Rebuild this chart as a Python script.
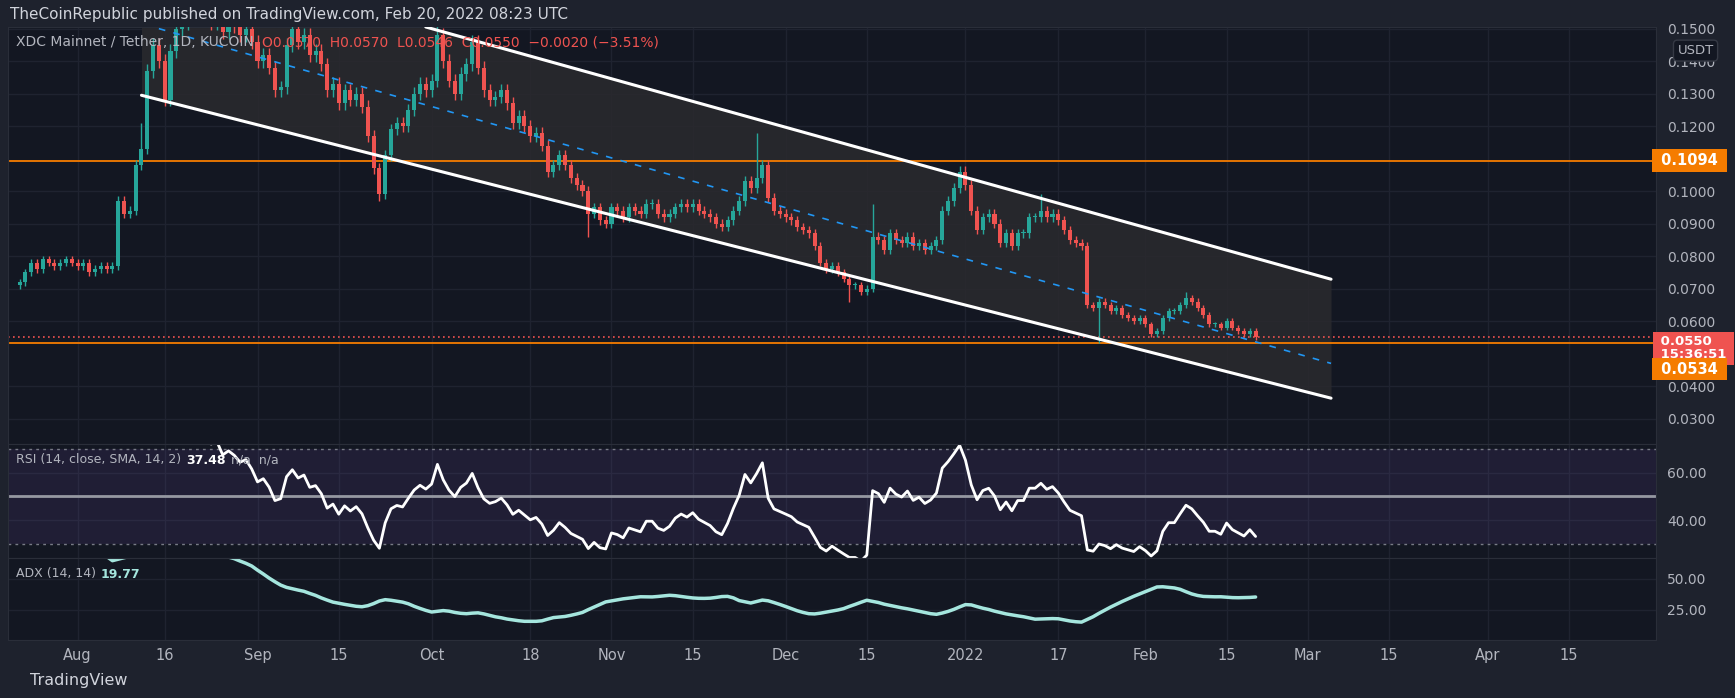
import numpy as np, pandas as pd, matplotlib
matplotlib.use("Agg")
import matplotlib.pyplot as plt, matplotlib.dates as mdates, seaborn as sns

close_jul = [0.072,0.075,0.078,0.076,0.079,0.078,0.077,0.078,0.079,0.078]
close_aug = [0.077,0.078,0.075,0.076,0.077,0.076,0.077,0.097,0.093,0.094,0.108,0.113,0.137,0.145,0.140,0.128,0.143,0.150,
             0.152,0.158,0.155,0.160,0.156,0.152,0.155,0.149,0.153,0.151,0.148,0.150,0.146]
close_sep = [0.140,0.142,0.138,0.131,0.132,0.145,0.150,0.146,0.148,0.142,0.143,0.139,0.131,0.133,0.127,0.131,0.128,0.130,0.126,0.117,
             0.107,0.099,0.111,0.119,0.121,0.120,0.125,0.130,0.133,0.131]
close_oct = [0.134,0.148,0.140,0.134,0.130,0.136,0.139,0.146,0.138,0.131,0.128,0.129,0.131,0.127,0.121,0.123,0.120,0.117,0.118,0.114,
             0.106,0.108,0.111,0.108,0.104,0.102,0.100,0.093,0.095,0.091,0.090]
close_nov = [0.095,0.094,0.092,0.095,0.094,0.093,0.096,0.096,0.093,0.092,0.093,0.095,0.096,0.095,0.096,0.094,0.093,0.092,0.090,0.089,
             0.091,0.094,0.097,0.103,0.101,0.104,0.108,0.098,0.094,0.093]
close_dec = [0.092,0.091,0.089,0.088,0.087,0.083,0.078,0.076,0.077,0.075,0.073,0.071,0.071,0.069,0.070,0.086,0.085,0.082,0.087,0.085,
             0.084,0.086,0.083,0.084,0.082,0.083,0.085,0.094,0.097,0.101,0.106]
close_jan = [0.102,0.094,0.088,0.092,0.093,0.090,0.084,0.087,0.083,0.087,0.087,0.092,0.092,0.094,0.092,0.093,0.091,0.088,0.085,0.084,
             0.083,0.065,0.064,0.066,0.065,0.063,0.064,0.062,0.061,0.060,0.061]
close_feb = [0.059,0.056,0.057,0.061,0.063,0.063,0.065,0.067,0.066,0.064,0.062,0.059,0.059,0.058,0.060,0.058,0.057,0.056,0.057,0.055]
first_open = 0.071
spike_highs = {"2021-08-12": 0.121, "2021-10-02": 0.152, "2021-11-26": 0.118, "2021-12-16": 0.096,
               "2022-01-14": 0.099, "2022-02-08": 0.069}
spike_lows = {"2021-09-22": 0.097, "2021-10-28": 0.086, "2022-01-24": 0.0534, "2021-12-12": 0.066}
resistance, support, last_price = 0.1094, 0.0534, 0.0550
upper_line = [("2021-09-30", 0.1505), ("2022-03-05", 0.0729)]
lower_line = [("2021-08-12", 0.1295), ("2022-03-05", 0.0363)]
mid_line = [("2021-08-15", 0.1500), ("2022-03-05", 0.0470)]
tick_dates = ["2021-08-01","2021-08-16","2021-09-01","2021-09-15","2021-10-01","2021-10-18","2021-11-01","2021-11-15",
              "2021-12-01","2021-12-15","2022-01-01","2022-01-17","2022-02-01","2022-02-15","2022-03-01","2022-03-15",
              "2022-04-01","2022-04-15"]
tick_labels = ["Aug","16","Sep","15","Oct","18","Nov","15","Dec","15","2022","17","Feb","15","Mar","15","Apr","15"]
price_ticks = [0.03,0.04,0.06,0.07,0.08,0.09,0.10,0.12,0.13,0.14,0.15]

closes = np.array(close_jul+close_aug+close_sep+close_oct+close_nov+close_dec+close_jan+close_feb)
dates = pd.date_range("2021-07-22", periods=len(closes), freq="D")
opens = np.concatenate([[first_open], closes[:-1]])
highs = np.maximum(opens, closes) * 1.015
lows = np.minimum(opens, closes) * 0.985
for d, v in spike_highs.items(): highs[dates.get_loc(pd.Timestamp(d))] = v
for d, v in spike_lows.items(): lows[dates.get_loc(pd.Timestamp(d))] = v
df = pd.DataFrame({"date": dates, "open": opens, "high": highs, "low": lows, "close": closes})

delta = df.close.diff()
up = delta.clip(lower=0).ewm(alpha=1/14, adjust=False).mean()
dn = (-delta.clip(upper=0)).ewm(alpha=1/14, adjust=False).mean()
df["rsi"] = 100 - 100/(1+up/dn)
tr = pd.concat([df.high-df.low, (df.high-df.close.shift()).abs(), (df.low-df.close.shift()).abs()], axis=1).max(axis=1)
pdm = (df.high.diff()).where((df.high.diff() > -df.low.diff()) & (df.high.diff() > 0), 0.0)
ndm = (-df.low.diff()).where((-df.low.diff() > df.high.diff()) & (-df.low.diff() > 0), 0.0)
atr = tr.ewm(alpha=1/14, adjust=False).mean()
pdi = 100*pdm.ewm(alpha=1/14, adjust=False).mean()/atr
ndi = 100*ndm.ewm(alpha=1/14, adjust=False).mean()/atr
dx = 100*(pdi-ndi).abs()/(pdi+ndi)
df["adx"] = dx.ewm(alpha=1/14, adjust=False).mean()

BG = "#131722"; GRID = "#1f2330"; TXT = "#b2b5be"; GREEN = "#26a69a"; RED = "#ef5350"; ORANGE = "#f57c00"
sns.set_style("dark", {"axes.facecolor": BG})
W, H = 1735, 698
fig = plt.figure(figsize=(W/100, H/100), dpi=100, facecolor="#1e222d")
def ax_at(l, t, r, b):
    return fig.add_axes([l/W, 1-b/H, (r-l)/W, (b-t)/H])
def ftext(x, y, s, **kw):
    return fig.text(x/W, 1-y/H, s, va="center", ha="left", zorder=12, **kw)
def chain(x, y, parts, size, gap=7):
    r = fig.canvas.get_renderer()
    for s, c, w in parts:
        t = ftext(x, y, s, color=c, fontsize=size, fontweight=w)
        x = t.get_window_extent(renderer=r).x1 + gap
x0, x1 = mdates.date2num(pd.Timestamp("2021-07-20")), mdates.date2num(pd.Timestamp("2022-04-30"))
axp = ax_at(8, 27, 1656, 444); axr = ax_at(8, 444, 1656, 558); axa = ax_at(8, 558, 1656, 640)
tnum = [mdates.date2num(pd.Timestamp(t)) for t in tick_dates]
for ax in (axp, axr, axa):
    ax.set_facecolor(BG); ax.set_xlim(x0, x1)
    ax.set_xticks(tnum); ax.grid(True, color=GRID, lw=1)
    ax.tick_params(axis="x", length=0, labelbottom=False)
    ax.yaxis.tick_right(); ax.tick_params(axis="y", length=0, colors=TXT, labelsize=10, pad=8)
    for s in ax.spines.values(): s.set_color("#2a2e39")
axa.set_xticklabels(tick_labels); axa.tick_params(axis="x", labelbottom=True, colors=TXT, labelsize=10.5, pad=6)

axp.set_ylim(0.0222, 0.1505)
axp.set_yticks(price_ticks); axp.set_yticklabels([f"{v:.4f}" for v in price_ticks])
def line_pts(pts):
    return [mdates.date2num(pd.Timestamp(d)) for d, _ in pts], [v for _, v in pts]
ux, uy = line_pts(upper_line); lx, ly = line_pts(lower_line); mx, my = line_pts(mid_line)
fx = np.linspace(lx[0], lx[1], 200)
lo_f = np.interp(fx, lx, ly)
up_slope = (uy[1]-uy[0])/(ux[1]-ux[0])
up_f = np.minimum(uy[0] + up_slope*(fx-ux[0]), 0.16)
axp.fill_between(fx, lo_f, up_f, color="#2a2a2e", alpha=0.85, lw=0, zorder=1)
axp.axhline(resistance, color=ORANGE, lw=1.3, zorder=2)
axp.axhline(support, color=ORANGE, lw=1.3, zorder=2)
axp.axhline(last_price, color=RED, lw=1.2, ls=(0, (1, 2)), zorder=2)
dn_num = mdates.date2num(df.date)
col = np.where(df.close >= df.open, GREEN, RED)
axp.vlines(dn_num, df.low, df.high, colors=col, lw=1, zorder=3)
axp.bar(dn_num, (df.close-df.open).abs().clip(lower=0.0004), bottom=np.minimum(df.open, df.close),
        width=0.7, color=col, edgecolor=col, linewidth=0, zorder=4)
axp.plot(ux, uy, color="white", lw=2.2, zorder=5)
axp.plot(lx, ly, color="white", lw=2.2, zorder=5)
axp.plot(mx, my, color="#2196f3", lw=1.2, ls=(0, (4, 5)), zorder=5)
def tag(ax, y, txt, fc, size=10.5):
    ax.text(1.0, y, txt, transform=ax.get_yaxis_transform(), color="white", fontsize=size, fontweight="bold",
            va="center", ha="left", linespacing=1.05, bbox=dict(boxstyle="square,pad=0.25", fc=fc, ec="none"), zorder=10)
tag(axp, resistance, " 0.1094 ", ORANGE)
tag(axp, 0.0517, " 0.0550  \n 15:36:51 ", RED, size=9.5)
tag(axp, 0.0452, " 0.0534 ", ORANGE)
axp.text(1.013, 0.935, "USDT", transform=axp.transAxes, color=TXT, fontsize=9.5, ha="left",
         bbox=dict(boxstyle="round,pad=0.3", fc=BG, ec="#363a45"))

chain(16, 42, [("XDC Mainnet / Tether, 1D, KUCOIN", TXT, "normal"),
               ("O0.0570  H0.0570  L0.0546  C0.0550  −0.0020 (−3.51%)", RED, "normal")], 10, gap=8)
chain(16, 460, [("RSI (14, close, SMA, 14, 2)", TXT, "normal"), ("37.48", "white", "bold"),
                ("n/a  n/a", TXT, "normal")], 9, gap=5)
chain(16, 574, [("ADX (14, 14)", TXT, "normal"), ("19.77", "#a5e6de", "bold")], 9, gap=5)

axr.set_ylim(24.1, 72.1)
axr.axhspan(30, 70, color="#7e57c2", alpha=0.12, lw=0)
axr.axhline(70, color="#787b86", lw=1, ls=(0, (2, 3))); axr.axhline(30, color="#787b86", lw=1, ls=(0, (2, 3)))
axr.axhline(50, color="#9598a1", lw=2)
sns.lineplot(data=df, x=dn_num, y="rsi", ax=axr, color="white", lw=2)
axr.set_yticks([40, 60]); axr.set_yticklabels(["40.00", "60.00"]); axr.set_xlabel(""); axr.set_ylabel("")

axa.set_ylim(0.8, 66.9)
sns.lineplot(data=df, x=dn_num, y="adx", ax=axa, color="#a5e6de", lw=2.5)
axa.set_yticks([25, 50]); axa.set_yticklabels(["25.00", "50.00"]); axa.set_xlabel(""); axa.set_ylabel("")

ftext(10, 14, "TheCoinRepublic published on TradingView.com, Feb 20, 2022 08:23 UTC", color="#d1d4dc", fontsize=11)
ftext(30, 680, "TradingView", color="#d1d4dc", fontsize=11.5)
fig.savefig("out.png", dpi=100, facecolor=fig.get_facecolor())
